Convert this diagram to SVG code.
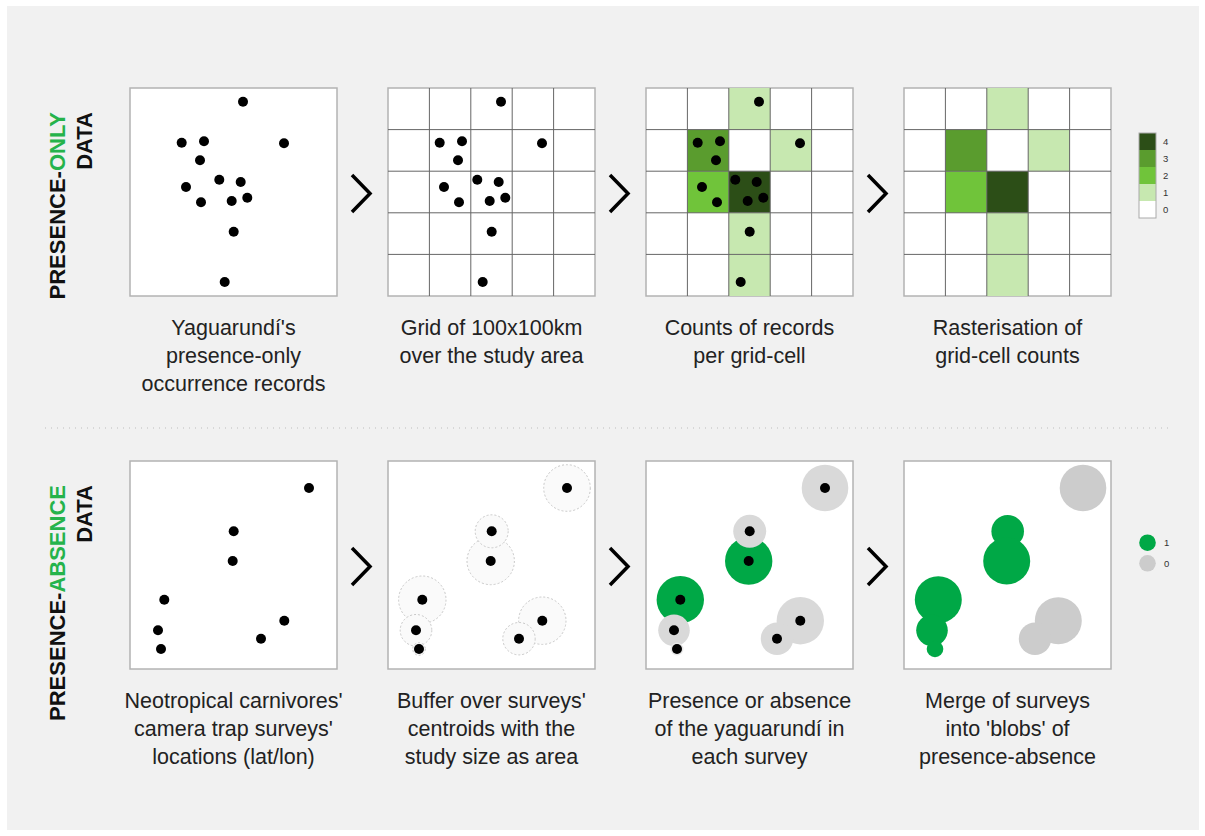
<svg xmlns="http://www.w3.org/2000/svg" width="1205" height="836" viewBox="0 0 1205 836">
<style>
.frame{fill:#fff;stroke:#b3b3b3;stroke-width:1.5}
.grid{stroke:#666;stroke-width:1;fill:none}
.dot{fill:#000}
.c1{fill:#c7e8b0}
.c2{fill:#70c43a}
.c3{fill:#5a9c2e}
.c4{fill:#2c4e17}
.buf{fill:#fafafa;stroke:#c8c8c8;stroke-width:1;stroke-dasharray:2 2}
.pg{fill:#00a846}
.ag{fill:#d9d9d9}
.ag4{fill:#cccccc}
.cap{font-family:"Liberation Sans",Arial,sans-serif;font-size:21.5px;fill:#222;text-anchor:middle}
.side{font-family:"Liberation Sans",Arial,sans-serif;font-size:22px;font-weight:bold;fill:#111;text-anchor:end}
.grn{fill:#25b34b}
.leg{font-family:"Liberation Sans",Arial,sans-serif;font-size:9.5px;fill:#333}
.chev{fill:none;stroke:#000;stroke-width:3.5}
</style>
<defs>
<g id="pts">
<circle class="dot" cx="113" cy="13.7" r="5"/>
<circle class="dot" cx="51.7" cy="54.7" r="5"/>
<circle class="dot" cx="74" cy="53.3" r="5"/>
<circle class="dot" cx="154" cy="55.3" r="5"/>
<circle class="dot" cx="70" cy="72.3" r="5"/>
<circle class="dot" cx="89.3" cy="91.7" r="5"/>
<circle class="dot" cx="110.7" cy="94" r="5"/>
<circle class="dot" cx="56" cy="99" r="5"/>
<circle class="dot" cx="71" cy="114.3" r="5"/>
<circle class="dot" cx="101.7" cy="113" r="5"/>
<circle class="dot" cx="117.3" cy="109.7" r="5"/>
<circle class="dot" cx="103.7" cy="143.7" r="5"/>
<circle class="dot" cx="94.7" cy="194" r="5"/>
</g>
<g id="gridlines">
<path class="grid" d="M41.4 0V208M82.8 0V208M124.2 0V208M165.6 0V208M0 41.6H207M0 83.2H207M0 124.8H207M0 166.4H207"/>
</g>
<g id="cells">
<rect class="c1" x="82.8" y="0" width="41.4" height="41.6"/>
<rect class="c3" x="41.4" y="41.6" width="41.4" height="41.6"/>
<rect class="c1" x="124.2" y="41.6" width="41.4" height="41.6"/>
<rect class="c2" x="41.4" y="83.2" width="41.4" height="41.6"/>
<rect class="c4" x="82.8" y="83.2" width="41.4" height="41.6"/>
<rect class="c1" x="82.8" y="124.8" width="41.4" height="41.6"/>
<rect class="c1" x="82.8" y="166.4" width="41.4" height="41.6"/>
</g>
<g id="sites">
<circle class="dot" cx="179" cy="27" r="5"/>
<circle class="dot" cx="103.7" cy="70.3" r="5"/>
<circle class="dot" cx="102.7" cy="100" r="5"/>
<circle class="dot" cx="34.3" cy="138.7" r="5"/>
<circle class="dot" cx="28" cy="169.3" r="5"/>
<circle class="dot" cx="31" cy="188" r="5"/>
<circle class="dot" cx="154.3" cy="159.7" r="5"/>
<circle class="dot" cx="131" cy="177.7" r="5"/>
</g>
</defs>
<rect x="7" y="6" width="1192" height="824" fill="#f1f1f1"/>
<g id="label-presence-only">
<text class="side" transform="translate(65,112) rotate(-90)">PRESENCE-<tspan class="grn">ONLY</tspan></text>
<text class="side" transform="translate(92,112) rotate(-90)">DATA</text>
</g>
<g id="label-presence-absence">
<text class="side" transform="translate(65,485) rotate(-90)">PRESENCE-<tspan class="grn">ABSENCE</tspan></text>
<text class="side" transform="translate(92,485) rotate(-90)">DATA</text>
</g>
<line x1="45" y1="428" x2="1170" y2="428" stroke="#bdbdbd" stroke-width="1" stroke-dasharray="1 5"/>
<g id="po-records" transform="translate(130,88)">
<rect class="frame" x="0" y="0" width="207" height="208"/>
<use href="#pts"/>
</g>
<g id="po-grid" transform="translate(388,88)">
<rect class="frame" x="0" y="0" width="207" height="208"/>
<use href="#gridlines"/>
<use href="#pts"/>
</g>
<g id="po-counts" transform="translate(646,88)">
<rect class="frame" x="0" y="0" width="207" height="208"/>
<use href="#cells"/>
<use href="#gridlines"/>
<use href="#pts"/>
</g>
<g id="po-raster" transform="translate(904,88)">
<rect class="frame" x="0" y="0" width="207" height="208"/>
<use href="#cells"/>
<use href="#gridlines"/>
</g>
<g id="po-legend">
<rect class="c4" x="1139" y="133" width="17" height="17"/>
<rect class="c3" x="1139" y="150" width="17" height="17"/>
<rect class="c2" x="1139" y="167" width="17" height="17"/>
<rect class="c1" x="1139" y="184" width="17" height="17"/>
<rect fill="#fff" x="1139" y="201" width="17" height="17"/>
<rect x="1139" y="133" width="17" height="85" fill="none" stroke="#aaa" stroke-width="1"/>
<text class="leg" x="1163" y="145">4</text>
<text class="leg" x="1163" y="162">3</text>
<text class="leg" x="1163" y="179">2</text>
<text class="leg" x="1163" y="196">1</text>
<text class="leg" x="1163" y="212.5">0</text>
</g>
<g id="pa-sites" transform="translate(130,461)">
<rect class="frame" x="0" y="0" width="207" height="208"/>
<use href="#sites"/>
</g>
<g id="pa-buffers" transform="translate(388,461)">
<rect class="frame" x="0" y="0" width="207" height="208"/>
<circle class="buf" cx="179" cy="27" r="23.3"/>
<circle class="buf" cx="102.7" cy="100" r="23.7"/>
<circle class="buf" cx="103.7" cy="70.3" r="16.5"/>
<circle class="buf" cx="34.3" cy="138.7" r="23.7"/>
<circle class="buf" cx="28" cy="169.3" r="15.8"/>
<circle class="buf" cx="31" cy="188" r="6.3"/>
<circle class="buf" cx="154.3" cy="159.7" r="23.7"/>
<circle class="buf" cx="131" cy="177.7" r="16.2"/>
<use href="#sites"/>
</g>
<g id="pa-status" transform="translate(646,461)">
<rect class="frame" x="0" y="0" width="207" height="208"/>
<circle class="pg" cx="102.7" cy="100" r="23.7"/>
<circle class="pg" cx="34.3" cy="138.7" r="23.7"/>
<circle class="ag" cx="179" cy="27" r="23.3"/>
<circle class="ag" cx="103.7" cy="70.3" r="16.5"/>
<circle class="ag" cx="28" cy="169.3" r="15.8"/>
<circle fill="#e8e8e8" cx="31" cy="188" r="6.5"/>
<circle class="ag" cx="154.3" cy="159.7" r="23.7"/>
<circle class="ag" cx="131" cy="177.7" r="16.2"/>
<use href="#sites"/>
</g>
<g id="pa-blobs" transform="translate(904,461)">
<rect class="frame" x="0" y="0" width="207" height="208"/>
<circle class="ag4" cx="179" cy="27" r="23.3"/>
<circle class="pg" cx="103.7" cy="70.3" r="16.3"/>
<circle class="pg" cx="102.7" cy="100" r="23.5"/>
<circle class="pg" cx="34.3" cy="138.7" r="23.5"/>
<circle class="pg" cx="28" cy="169.3" r="15.8"/>
<circle class="pg" cx="31" cy="188" r="8.3"/>
<circle class="ag4" cx="154.3" cy="159.7" r="23.5"/>
<circle class="ag4" cx="131" cy="177.7" r="16.2"/>
</g>
<g id="pa-legend">
<circle class="pg" cx="1147.5" cy="542.7" r="8.3"/>
<circle class="ag4" cx="1147.5" cy="563.3" r="8.3"/>
<text class="leg" x="1164" y="546">1</text>
<text class="leg" x="1164" y="567">0</text>
</g>
<g id="connectors">
<polyline class="chev" points="352,175 370,193.5 352,212"/>
<polyline class="chev" points="610,175 628,193.5 610,212"/>
<polyline class="chev" points="868,175 886,193.5 868,212"/>
<polyline class="chev" points="352,548 370,566.5 352,585"/>
<polyline class="chev" points="610,548 628,566.5 610,585"/>
<polyline class="chev" points="868,548 886,566.5 868,585"/>
</g>
<g id="captions-top">
<text class="cap" x="233.5" y="335">Yaguarundí's<tspan x="233.5" dy="28">presence-only</tspan><tspan x="233.5" dy="28">occurrence records</tspan></text>
<text class="cap" x="491.5" y="335">Grid of 100x100km<tspan x="491.5" dy="28">over the study area</tspan></text>
<text class="cap" x="749.5" y="335">Counts of records<tspan x="749.5" dy="28">per grid-cell</tspan></text>
<text class="cap" x="1007.5" y="335">Rasterisation of<tspan x="1007.5" dy="28">grid-cell counts</tspan></text>
</g>
<g id="captions-bottom">
<text class="cap" x="233.5" y="708">Neotropical carnivores'<tspan x="233.5" dy="28">camera trap surveys'</tspan><tspan x="233.5" dy="28">locations (lat/lon)</tspan></text>
<text class="cap" x="491.5" y="708">Buffer over surveys'<tspan x="491.5" dy="28">centroids with the</tspan><tspan x="491.5" dy="28">study size as area</tspan></text>
<text class="cap" x="749.5" y="708">Presence or absence<tspan x="749.5" dy="28">of the yaguarundí in</tspan><tspan x="749.5" dy="28">each survey</tspan></text>
<text class="cap" x="1007.5" y="708">Merge of surveys<tspan x="1007.5" dy="28">into 'blobs' of</tspan><tspan x="1007.5" dy="28">presence-absence</tspan></text>
</g>
</svg>
